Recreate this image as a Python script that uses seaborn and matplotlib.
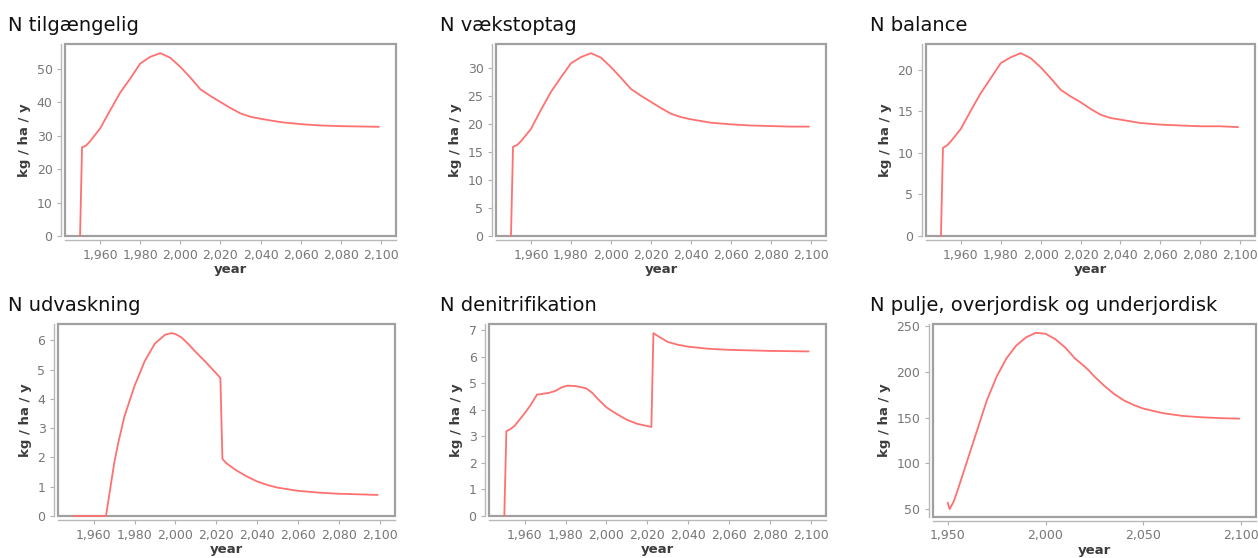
import matplotlib
matplotlib.use("Agg")
import matplotlib.pyplot as plt
import seaborn as sns
from matplotlib.ticker import FuncFormatter, MultipleLocator
from matplotlib.patches import Rectangle

sns.set_style("white")
plt.rcParams['font.family'] = ['DejaVu Sans']

# ---- data ----
titles = ["N tilgængelig", "N vækstoptag", "N balance",
          "N udvaskning", "N denitrifikation", "N pulje, overjordisk og underjordisk"]

years_tilg = [1950, 1951, 1953, 1955, 1960, 1965, 1970, 1975, 1980, 1985, 1990, 1995, 2000,
              2005, 2010, 2015, 2020, 2025, 2030, 2035, 2040, 2050, 2060, 2070, 2080, 2090, 2099]
vals_tilg = [0, 26.5, 27.0, 28.3, 32.1, 37.5, 42.8, 47.0, 51.5, 53.5, 54.6, 53.2, 50.5,
             47.3, 43.8, 41.8, 40.0, 38.2, 36.6, 35.6, 35.0, 34.0, 33.4, 33.0, 32.8, 32.7, 32.6]

years_vaekst = years_tilg
vals_vaekst = [0, 15.9, 16.2, 16.9, 19.1, 22.5, 25.7, 28.3, 30.8, 31.9, 32.6, 31.8, 30.1,
               28.2, 26.2, 25.0, 23.9, 22.8, 21.8, 21.2, 20.8, 20.2, 19.9, 19.7, 19.6, 19.5, 19.5]

years_bal = years_tilg
vals_bal = [0, 10.6, 10.9, 11.4, 12.9, 15.1, 17.2, 19.0, 20.8, 21.5, 22.0, 21.4, 20.3,
            19.0, 17.6, 16.8, 16.1, 15.3, 14.6, 14.2, 14.0, 13.6, 13.4, 13.3, 13.2, 13.2, 13.1]

years_udv = [1950, 1966, 1968, 1970, 1972, 1975, 1980, 1985, 1990, 1995, 1998, 2000, 2003, 2006,
             2010, 2015, 2022, 2023, 2025, 2030, 2035, 2040, 2045, 2050, 2060, 2070, 2080, 2090, 2099]
vals_udv = [0, 0.0, 0.9, 1.8, 2.5, 3.4, 4.45, 5.3, 5.9, 6.2, 6.25, 6.22, 6.1, 5.9,
            5.6, 5.25, 4.72, 1.95, 1.8, 1.55, 1.35, 1.18, 1.06, 0.97, 0.86, 0.8, 0.76, 0.74, 0.72]

years_denit = [1950, 1951, 1953, 1955, 1960, 1963, 1966, 1968, 1972, 1975, 1978, 1981, 1985, 1990,
               1993, 1996, 2000, 2005, 2010, 2015, 2022, 2023, 2026, 2030, 2035, 2040, 2050, 2060,
               2070, 2080, 2090, 2099]
vals_denit = [0, 3.2, 3.28, 3.4, 3.88, 4.2, 4.58, 4.6, 4.65, 4.72, 4.85, 4.92, 4.9, 4.82,
              4.65, 4.4, 4.1, 3.85, 3.63, 3.48, 3.36, 6.9, 6.75, 6.57, 6.46, 6.39, 6.31, 6.27,
              6.25, 6.23, 6.22, 6.21]

years_pulje = [1950, 1951, 1953, 1955, 1960, 1965, 1970, 1975, 1980, 1985, 1990, 1995, 2000, 2005,
               2010, 2015, 2020, 2022, 2025, 2030, 2035, 2040, 2045, 2050, 2060, 2070, 2080, 2090, 2099]
vals_pulje = [57, 50, 58, 70, 103, 136, 169, 195, 215, 229, 238, 243, 242, 236,
              227, 215, 206, 202, 195, 185, 176, 169, 164, 160, 155, 152, 150.5, 149.5, 149]

series = [(years_tilg, vals_tilg), (years_vaekst, vals_vaekst), (years_bal, vals_bal),
          (years_udv, vals_udv), (years_denit, vals_denit), (years_pulje, vals_pulje)]

ytick_steps = [10, 5, 5, 1, 1, 50]

# axes boxes in pixels: left, right, top, bottom
W, H = 1258, 558
boxes = [(65, 396, 44, 236), (496, 826, 44, 236), (926, 1255, 44, 236),
         (58, 395, 324, 516), (489, 826, 324, 516), (933, 1256, 324, 517)]
title_pos = [(8, 31), (440, 31), (870, 31), (8, 311), (440, 311), (870, 311)]

fig = plt.figure(figsize=(W / 100, H / 100), dpi=100)

line_color = "#ff7070"
tick_color = "#777777"
label_color = "#3c3c3c"
fmt = FuncFormatter(lambda v, p: f"{v:,.0f}")

for i, ((xs, ys), title) in enumerate(zip(series, titles)):
    l, r, t, b = boxes[i]
    ax = fig.add_axes([l / W, (H - b) / H, (r - l) / W, (b - t) / H])
    sns.lineplot(x=xs, y=ys, ax=ax, color=line_color, linewidth=1.3, zorder=6)
    for ln in ax.lines:
        ln.set_clip_on(False)
    if i < 5:
        ax.set_ylim(0, max(ys) * 1.05)
    else:
        rng = max(ys) - min(ys)
        ax.set_ylim(min(ys) - 0.045 * rng, max(ys) + 0.05 * rng)
    ax.yaxis.set_major_locator(MultipleLocator(ytick_steps[i]))
    ax.xaxis.set_major_formatter(fmt)
    ax.yaxis.set_major_formatter(fmt)
    if i == 5:
        ax.set_xticks([1950, 2000, 2050, 2100])
    else:
        ax.set_xticks(list(range(1960, 2101, 20)))
    ax.set_xlim(1942.5, 2107.5)

    for s in ["top", "right"]:
        ax.spines[s].set_visible(False)
    for s in ["left", "bottom"]:
        ax.spines[s].set_position(("outward", 3))
        ax.spines[s].set_color("#b8b8b8")
        ax.spines[s].set_linewidth(1.0)
    ax.add_patch(Rectangle((0, 0), 1, 1, transform=ax.transAxes, fill=False,
                           edgecolor="#a0a0a0", linewidth=1.6, clip_on=False, zorder=4))
    ax.tick_params(axis="both", which="major", direction="out", length=3, width=0.8,
                   color="#b0b0b0", labelcolor=tick_color, labelsize=9, pad=3,
                   left=True, bottom=True)
    ax.set_xlabel("year", fontsize=9.5, fontweight="bold", color=label_color, labelpad=1)
    ax.set_ylabel("kg / ha / y", fontsize=9.5, fontweight="bold", color=label_color, labelpad=4)
    ax.grid(False)

    tx, ty = title_pos[i]
    fig.text(tx / W, (H - ty) / H, title, fontsize=14, family=["DejaVu Sans"],
             color="#111111", ha="left", va="baseline")

fig.savefig("out.png", dpi=100)
